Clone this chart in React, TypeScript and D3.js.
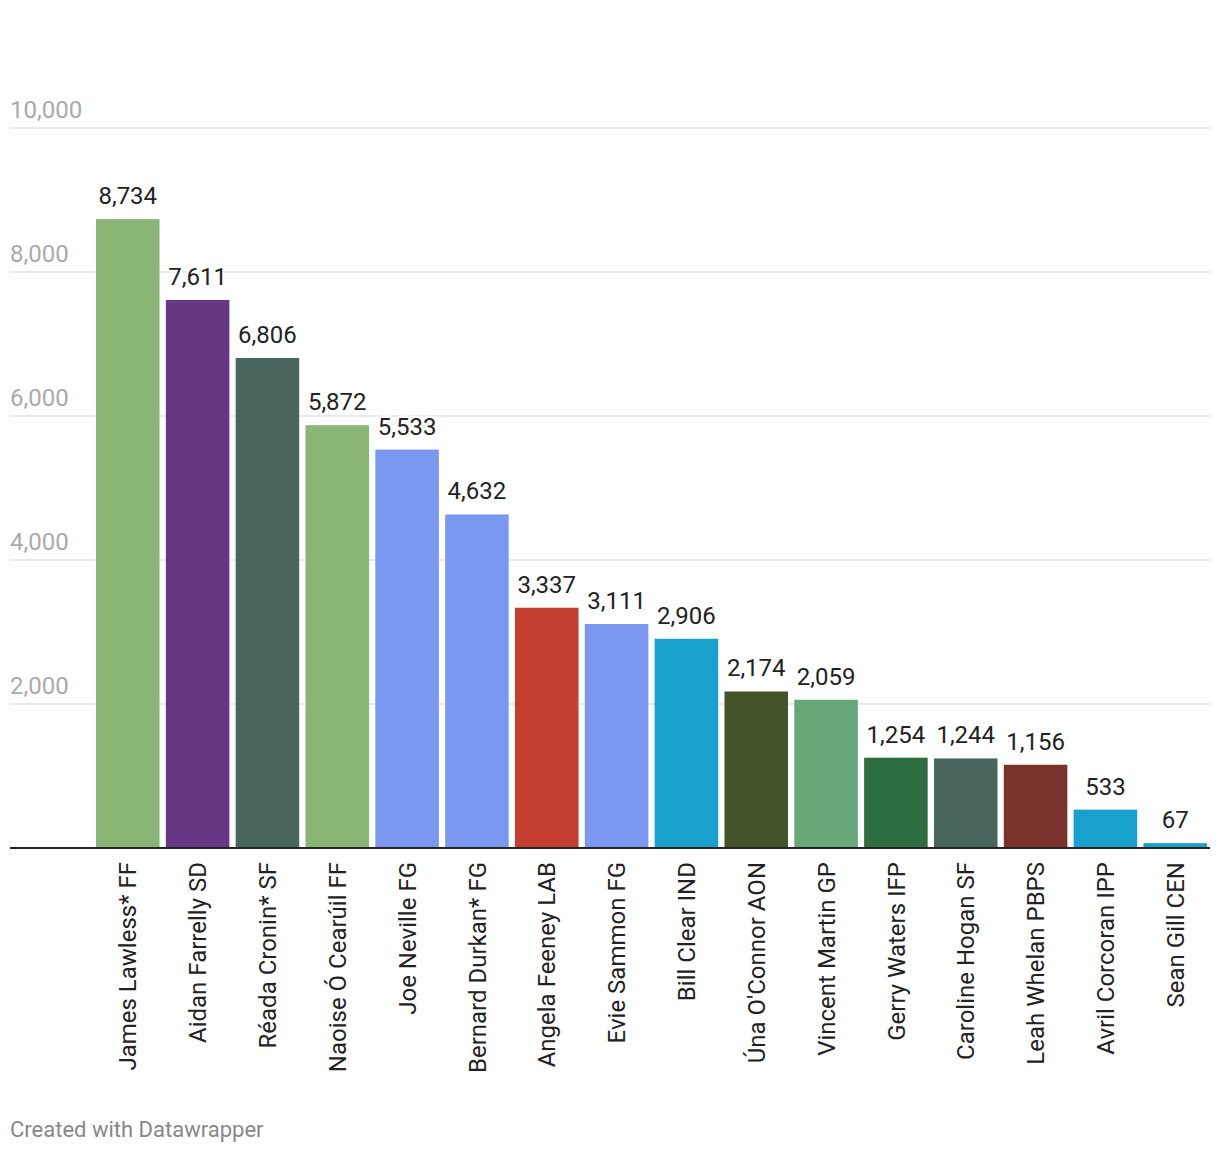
import React from "react";
import * as d3 from "d3";

const candidates = [
  "James Lawless* FF",
  "Aidan Farrelly SD",
  "Réada Cronin* SF",
  "Naoise Ó Cearúil FF",
  "Joe Neville FG",
  "Bernard Durkan* FG",
  "Angela Feeney LAB",
  "Evie Sammon FG",
  "Bill Clear IND",
  "Úna O'Connor AON",
  "Vincent Martin GP",
  "Gerry Waters IFP",
  "Caroline Hogan SF",
  "Leah Whelan PBPS",
  "Avril Corcoran IPP",
  "Sean Gill CEN",
];
const votes = [8734, 7611, 6806, 5872, 5533, 4632, 3337, 3111, 2906, 2174, 2059, 1254, 1244, 1156, 533, 67];
const barColors = [
  "#89b674", "#663782", "#48655e", "#89b674", "#7a98f0", "#7a98f0", "#c43e2f", "#7a98f0",
  "#18a1cd", "#44532a", "#68a778", "#2d6e40", "#48655e", "#78312b", "#18a1cd", "#18a1cd",
];
const yTicks = [2000, 4000, 6000, 8000, 10000];

const W = 1220;
const H = 1156;

export default function App() {
  const x = d3.scaleBand<number>().domain(d3.range(candidates.length)).range([96, 1207]).paddingInner(0.09).paddingOuter(0);
  const y = d3.scaleLinear().domain([0, 10000]).range([848, 128]);
  const fmt = d3.format(",");
  const font = "Roboto, 'Noto Sans', sans-serif";

  return (
    <svg width={W} height={H} style={{ position: "absolute", left: 0, top: 0, background: "#fff" }} fontFamily={font}>
      {yTicks.map((t) => (
        <g key={t}>
          <line x1={10} x2={1210} y1={y(t)} y2={y(t)} stroke="#e3e3e3" strokeWidth={1.5} />
          <text x={10} y={y(t) - 10} fontSize={24} fill="#aaaaaa">{fmt(t)}</text>
        </g>
      ))}
      {votes.map((v, i) => (
        <rect key={i} x={x(i)} y={y(v)} width={x.bandwidth()} height={y(0) - y(v)} fill={barColors[i]} />
      ))}
      {votes.map((v, i) => (
        <text
          key={"l" + i}
          x={(x(i) as number) + x.bandwidth() / 2}
          y={y(v) - 15}
          fontSize={24}
          fill="#222"
          textAnchor="middle"
          stroke="#fff"
          strokeWidth={5}
          paintOrder="stroke"
          strokeLinejoin="round"
        >
          {fmt(v)}
        </text>
      ))}
      <line x1={10} x2={1210} y1={y(0)} y2={y(0)} stroke="#222" strokeWidth={2} />
      {candidates.map((c, i) => {
        const cx = (x(i) as number) + x.bandwidth() / 2;
        return (
          <text
            key={"c" + i}
            transform={`translate(${cx},862) rotate(-90)`}
            dy="0.36em"
            textAnchor="end"
            fontSize={24}
            fill="#222"
          >
            {c}
          </text>
        );
      })}
      <text x={10} y={1137} fontSize={22} fill="#888">Created with Datawrapper</text>
    </svg>
  );
}
